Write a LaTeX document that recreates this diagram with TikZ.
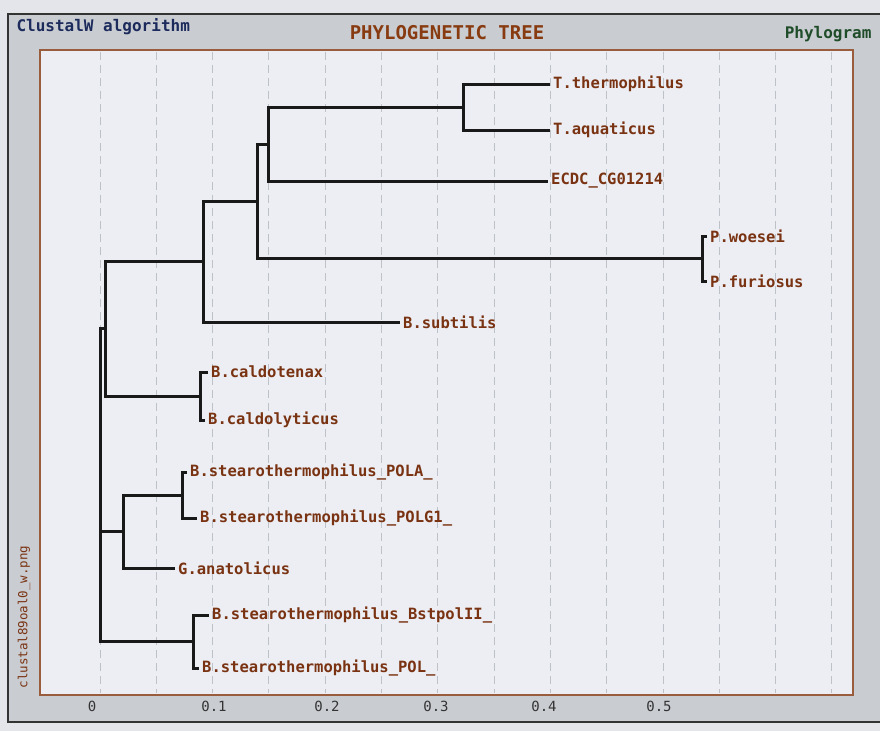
\documentclass[tikz,border=0pt]{standalone}
\usepackage{fontspec}
\usepackage{xcolor}
\usepackage{tikz}
\setmonofont{DejaVu Sans Mono}
\definecolor{paper}{rgb}{0.89,0.90,0.92}
\definecolor{win}{rgb}{0.79,0.80,0.82}
\definecolor{pane}{rgb}{0.925,0.933,0.953}
\definecolor{rim}{rgb}{0.60,0.36,0.24}
\definecolor{leaf}{rgb}{0.48,0.20,0.07}
\definecolor{navy}{rgb}{0.11,0.17,0.36}
\definecolor{grn}{rgb}{0.12,0.30,0.16}
\definecolor{grd}{rgb}{0.74,0.76,0.79}
\usetikzlibrary{calc,positioning}

\begin{document}
\begin{tikzpicture}[x=1pt,y=-1pt,
  branch/.style={draw=black!90, line width=3pt},
  taxon/.style={anchor=west, inner xsep=3pt, inner ysep=0pt, text=leaf,
    font=\ttfamily\bfseries\fontsize{15.5}{16}\selectfont},
  scalelab/.style={text=black!80, font=\ttfamily\fontsize{14}{15}\selectfont}]
\useasboundingbox (0,0) rectangle (880,731);
\fill[paper] (0,0) rectangle (880,731);
% window and plot panel
\fill[win] (8,14) rectangle (880,722);
\draw[black!80, line width=1.6pt] (880,14) -- (8,14) -- (8,722) -- (880,722);
\filldraw[fill=pane, draw=rim, line width=1.4pt] (40,50) rectangle (853,695);

\node[anchor=west, text=navy, font=\ttfamily\bfseries\fontsize{16}{17}\selectfont] (algo) at (13,27) {ClustalW algorithm};
\node[text=leaf!90!orange, font=\ttfamily\bfseries\fontsize{19}{20}\selectfont] (title) at (447,33) {PHYLOGENETIC TREE};
\node[anchor=east, text=grn, font=\ttfamily\bfseries\fontsize{16}{17}\selectfont] (kind) at (875,34) {Phylogram};
\node[rotate=90, text=leaf, font=\ttfamily\fontsize{12.5}{13}\selectfont] (fname) at (24,617) {clustal89oal0\_w.png};

% grid every 0.05
\foreach \k in {0,...,13}
  \draw[grd, line width=0.9pt, dash pattern=on 8pt off 5pt] ({100+56.3*\k},52) -- ({100+56.3*\k},693);
\foreach \x/\lab in {92/0,214/0.1,327/0.2,436/0.3,544/0.4,659/0.5}
  \node[scalelab] (s\x) at (\x,706) {\lab};

% inner nodes
\coordinate (root) at (100,485);
\coordinate (nA) at (105,328);
\coordinate (n3) at (203,261);
\coordinate (n2) at (257,201);
\coordinate (n1) at (268,144);
\coordinate (nT) at (463,107);
\coordinate (nP) at (702,258);
\coordinate (nC) at (200,396);
\coordinate (nG) at (123,531);
\coordinate (nS) at (182,495);
\coordinate (nB) at (193,641);

% leaves
\node[taxon] (tth) at (550,84) {T.thermophilus};
\node[taxon] (taq) at (550,130) {T.aquaticus};
\node[taxon] (ecdc) at (548,181) {ECDC\_CG01214};
\node[taxon] (pwo) at (707,236) {P.woesei};
\node[taxon] (pfu) at (707,281) {P.furiosus};
\node[taxon] (bsu) at (400,322) {B.subtilis};
\node[taxon] (bcx) at (208,372) {B.caldotenax};
\node[taxon] (bcy) at (205,420) {B.caldolyticus};
\node[taxon] (pola) at (187,472) {B.stearothermophilus\_POLA\_};
\node[taxon] (polg) at (197,518) {B.stearothermophilus\_POLG1\_};
\node[taxon] (gan) at (175,568) {G.anatolicus};
\node[taxon] (bst) at (209,615) {B.stearothermophilus\_BstpolII\_};
\node[taxon] (pol) at (199,668) {B.stearothermophilus\_POL\_};

% branches
\draw[branch] (root) |- (nA);
\draw[branch] (root) |- (nG);
\draw[branch] (root) |- (nB);
\draw[branch] (nA) |- (n3);
\draw[branch] (nA) |- (nC);
\draw[branch] (n3) |- (n2);
\draw[branch] (n3) |- (bsu.west);
\draw[branch] (n2) |- (n1);
\draw[branch] (n2) |- (nP);
\draw[branch] (n1) |- (nT);
\draw[branch] (n1) |- (ecdc.west);
\draw[branch] (nT) |- (tth.west);
\draw[branch] (nT) |- (taq.west);
\draw[branch] (nP) |- (pwo.west);
\draw[branch] (nP) |- (pfu.west);
\draw[branch] (nC) |- (bcx.west);
\draw[branch] (nC) |- (bcy.west);
\draw[branch] (nG) |- (nS);
\draw[branch] (nG) |- (gan.west);
\draw[branch] (nS) |- (pola.west);
\draw[branch] (nS) |- (polg.west);
\draw[branch] (nB) |- (bst.west);
\draw[branch] (nB) |- (pol.west);
\end{tikzpicture}
\end{document}
